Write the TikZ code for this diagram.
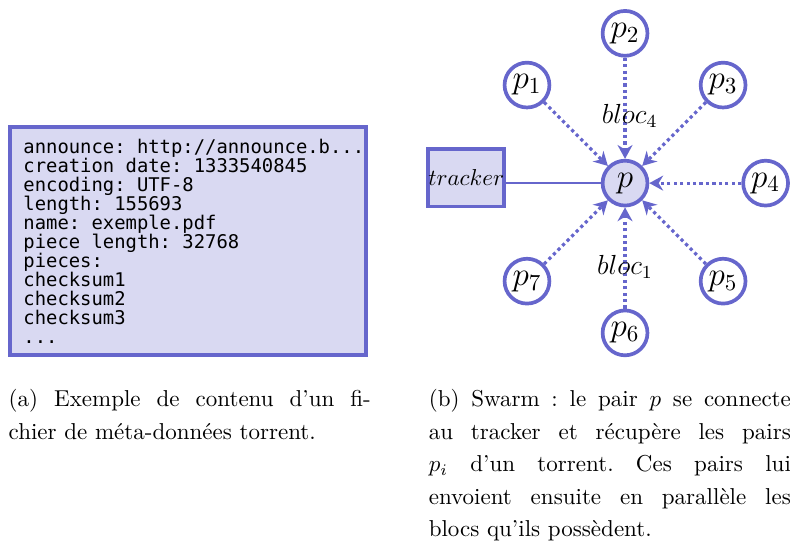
\documentclass[tikz,border=0pt]{standalone}
\usepackage{fontspec}
\setmonofont{DejaVu Sans Mono}
\usetikzlibrary{positioning,arrows.meta}
\definecolor{peerblue}{rgb}{0.4,0.4,0.8}

\begin{document}
\begin{tikzpicture}[
            node distance=2cm,thick,
            peernode/.style={circle, draw=peerblue, fill=white, line width=1.6pt, minimum size=19.5pt, inner sep=0pt, font=\Large},
            selfnode/.style={peernode, fill=peerblue!25},
            trackernode/.style={rectangle, draw=peerblue, fill=peerblue!25, line width=1.6pt, inner sep=0pt, minimum width=31.9pt, minimum height=25pt},
            metanode/.style={rectangle, draw=peerblue, fill=peerblue!25, line width=1.6pt, minimum width=154.9pt, minimum height=99.3pt, inner xsep=5.8pt, text width=143pt, align=left, font=\ttfamily\fontsize{8.2}{8.26}\selectfont, execute at begin node={\spaceskip=0pt\xspaceskip=0pt}},
            captionnode/.style={text width=157.4pt, align=justify, inner sep=0pt, anchor=north west, font=\fontsize{10}{14.1}\selectfont\sloppy\frenchspacing},
            bloclabel/.style={text=black, font=\large},
            blocflow/.style={peerblue, line width=1.4pt, dash pattern=on 1.4pt off 1.4pt, -{Stealth[length=6pt,width=6.5pt]}},
            ]
            \useasboundingbox (-271.7pt,-158.3pt) rectangle (71.7pt,79.6pt);
            % Nodes
            \node[selfnode] (p) at (0,0) {$p$};
            \node[peernode] (p2) [above=44pt of p] {$p_2$};
            \node[peernode] (p6) [below=44pt of p] {$p_6$};
            \node[peernode] (p4) [right=40pt of p] {$p_4$};
            \node[peernode] (p1) [above left=27.7pt and 27.7pt of p] {$p_1$};
            \node[peernode] (p3) [above right=27.7pt and 27.7pt of p] {$p_3$};
            \node[peernode] (p5) [below right=27.7pt and 27.7pt of p] {$p_5$};
            \node[peernode] (p7) [below left=27.7pt and 27.7pt of p] {$p_7$};
            
            \node[trackernode] (tracker) [left=41.2pt of p, yshift=2.4pt] {$tracker$};
            
            \node[metanode] (meta) at (-190pt,-25.2pt) {announce:~http://announce.b...\\
                creation~date:~1333540845\\
                encoding: UTF-8\\
                length: 155693\\
                name: exemple.pdf\\
                piece~length:~32768\\
                pieces:\\
                checksum1\\
                checksum2\\
                checksum3\\
                ...};
            
            \node[captionnode] (capa) at (-268.3pt,-89.4pt) {(a) Exemple de contenu d'un fi-\linebreak
                chier de méta-données torrent.};
            \node[captionnode] (capb) at (-85.7pt,-89.4pt) {(b) Swarm : le pair $p$ se connecte\linebreak
                au tracker et récupère les pairs\linebreak
                $p_i$ d'un torrent. Ces pairs lui\linebreak
                envoient ensuite en parallèle les\linebreak
                blocs qu'ils possèdent.};
            
            % Lines
            \draw[peerblue, line width=1pt] (tracker.east |- p) -- (p);
            \draw[blocflow] (p1) -- (p);
            \draw[blocflow] (p2) -- node [bloclabel,pos=0.58,xshift=2pt] {$bloc_4$} (p);
            \draw[blocflow] (p3) -- (p);
            \draw[blocflow] (p4) -- (p);
            \draw[blocflow] (p5) -- (p);
            \draw[blocflow] (p6) -- node [bloclabel,pos=0.41] {$bloc_1$} (p);
            \draw[blocflow] (p7) -- (p);
        \end{tikzpicture}
\end{document}
